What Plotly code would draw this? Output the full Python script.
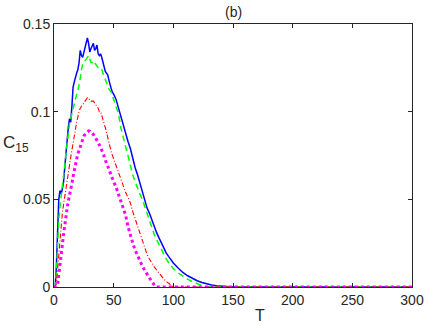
import plotly.graph_objects as go

# ---- data ----
T_blue = [0,1,2,3,4,5,6,7,8,9,10,11,12,13,14,15,16,17,18,19,20,21,22,23,24,25,26,27,28,29,30,
          31,32,33,34,35,36,37,38,39,40,41,42,43,44,45,46,47,48,49,50,52,54,56,58,60,62,64,66,68,
          70,72,74,76,78,80,82,84,86,88,90,92,94,96,98,100,104,108,112,116,120,124,128,132,136,
          140,145,150,200,250,300]
C_blue = [0,0,0.012,0.032,0.05,0.055,0.053,0.056,0.06,0.068,0.077,0.085,0.091,0.096,0.094,0.103,
          0.114,0.117,0.12,0.122,0.124,0.128,0.135,0.132,0.131,0.134,0.136,0.139,0.142,0.139,0.134,
          0.136,0.138,0.139,0.135,0.136,0.138,0.133,0.132,0.133,0.131,0.128,0.125,0.123,0.122,0.121,
          0.118,0.115,0.113,0.111,0.11,0.107,0.102,0.097,0.093,0.088,0.083,0.079,0.073,0.068,
          0.064,0.059,0.055,0.050,0.045,0.042,0.038,0.035,0.031,0.028,0.025,0.022,0.0195,0.0175,
          0.0155,0.0137,0.0108,0.0083,0.0064,0.0048,0.0036,0.0026,0.0018,0.0011,0.0007,
          0.0004,0.0001,0,0,0,0]

T_green = [0,1,2,3,4,5,6,7,8,9,10,11,12,13,14,15,16,17,18,19,20,21,22,23,24,25,26,27,28,29,30,
           31,32,33,34,35,36,37,38,39,40,41,42,43,44,45,46,47,48,49,50,52,54,56,58,60,62,64,66,68,
           70,72,74,76,78,80,82,84,86,88,90,92,94,96,98,100,104,108,112,116,120,124,128,200,250,300]
C_green = [0,0,0.008,0.025,0.038,0.046,0.051,0.056,0.062,0.069,0.076,0.083,0.088,0.093,0.096,0.099,
           0.101,0.105,0.107,0.11,0.112,0.115,0.119,0.124,0.127,0.128,0.129,0.130,0.131,0.132,0.130,
           0.128,0.128,0.129,0.128,0.127,0.126,0.125,0.124,0.124,0.124,0.122,0.12,0.118,0.116,0.115,
           0.113,0.112,0.111,0.109,0.107,0.103,0.099,0.091,0.085,0.080,0.075,0.069,0.064,0.060,
           0.056,0.053,0.050,0.046,0.041,0.037,0.033,0.030,0.027,0.024,0.021,0.0185,0.016,0.014,
           0.012,0.0105,0.008,0.006,0.0045,0.003,0.0017,0.0008,0,0,0,0]

T_red = [0,1,2,3,4,5,6,7,8,9,10,11,12,13,14,15,16,17,18,19,20,21,22,23,24,25,26,27,28,29,30,
         31,32,33,34,35,36,37,38,39,40,41,42,43,44,45,46,47,48,49,50,52,54,56,58,60,62,64,66,68,
         70,72,74,76,78,80,82,84,86,88,90,92,94,96,98,100,200,250,300]
C_red = [0,0,0.002,0.01,0.02,0.028,0.035,0.042,0.047,0.052,0.056,0.062,0.066,0.071,0.074,0.078,
         0.083,0.087,0.09,0.094,0.098,0.1,0.102,0.103,0.104,0.105,0.106,0.107,0.108,0.107,0.107,
         0.106,0.106,0.106,0.105,0.104,0.103,0.102,0.1,0.1,0.098,0.095,0.093,0.091,0.088,0.085,
         0.082,0.079,0.077,0.075,0.073,0.069,0.066,0.062,0.057,0.054,0.051,0.048,0.043,0.039,
         0.034,0.030,0.026,0.022,0.0185,0.016,0.0135,0.0115,0.0097,0.0078,0.006,0.0045,0.0032,
         0.002,0.001,0,0,0,0]

T_mag = [0,1,2,3,4,5,6,7,8,9,10,11,12,13,14,15,16,17,18,19,20,21,22,23,24,25,26,27,28,29,30,
         31,32,33,34,35,36,37,38,39,40,41,42,43,44,45,46,47,48,49,50,52,54,56,58,60,62,64,66,68,
         70,72,74,76,78,80,82,84,86,150,200,250,300]
C_mag = [0,0,0,0.001,0.006,0.012,0.018,0.024,0.03,0.036,0.041,0.045,0.049,0.052,0.055,0.059,
         0.063,0.067,0.070,0.073,0.076,0.078,0.081,0.083,0.085,0.086,0.087,0.088,0.0885,0.089,0.0888,
         0.088,0.0878,0.087,0.086,0.085,0.0838,0.0825,0.081,0.079,0.078,0.0765,0.074,0.072,0.0705,
         0.069,0.067,0.065,0.0635,0.062,0.060,0.057,0.053,0.050,0.046,0.041,0.0345,0.029,0.025,
         0.021,0.018,0.014,0.012,0.0095,0.0072,0.005,0.003,0.0013,0,0,0,0,0]

x_ticks = [0, 50, 100, 150, 200, 250, 300]
y_ticks = [0, 0.05, 0.1, 0.15]
y_tick_text = ["0", "0.05", "0.1", "0.15"]

FONT = "Liberation Sans, Arial, Helvetica, sans-serif"
INK = "#262626"

fig = go.Figure()
fig.add_trace(go.Scatter(x=T_blue, y=C_blue, mode="lines",
                         line=dict(color="#0000FF", width=1.5)))
fig.add_trace(go.Scatter(x=T_green, y=C_green, mode="lines",
                         line=dict(color="#00FF00", width=1.5, dash="6px,4px")))
fig.add_trace(go.Scatter(x=T_red, y=C_red, mode="lines",
                         line=dict(color="#FF0000", width=1.1, dash="5px,2px,1px,2px")))
fig.add_trace(go.Scatter(x=T_mag, y=C_mag, mode="lines",
                         line=dict(color="#FF00FF", width=3, dash="3px,3px")))

axis_common = dict(showgrid=False, zeroline=False, showline=True, linecolor=INK, linewidth=1,
                   mirror="ticks", ticks="inside", ticklen=4, tickcolor=INK,
                   tickfont=dict(family=FONT, size=14, color=INK))

fig.update_xaxes(range=[0, 300], tickvals=x_ticks, **axis_common)
fig.update_yaxes(range=[0, 0.15], tickvals=y_ticks, ticktext=y_tick_text, **axis_common)

fig.update_layout(
    width=436, height=328,
    margin=dict(l=54, r=24, t=24, b=41),
    paper_bgcolor="white", plot_bgcolor="white",
    showlegend=False,
    hovermode=False,
    font=dict(family=FONT, color=INK),
    annotations=[
        dict(text="(b)", xref="paper", yref="paper", x=0.5, y=1.044,
             xanchor="center", yanchor="middle", showarrow=False,
             font=dict(family=FONT, size=14, color=INK)),
        dict(text="C<sub>15</sub>", xref="paper", yref="paper", x=-0.105, y=0.544,
             xanchor="center", yanchor="middle", showarrow=False,
             font=dict(family=FONT, size=17, color=INK)),
        dict(text="T", xref="paper", yref="paper", x=0.575, y=-0.110,
             xanchor="center", yanchor="middle", showarrow=False,
             font=dict(family=FONT, size=16, color=INK)),
    ],
)

fig.write_html("out.html", config={"displayModeBar": False},
               post_script="document.body.style.margin='0';document.body.style.padding='0';")
